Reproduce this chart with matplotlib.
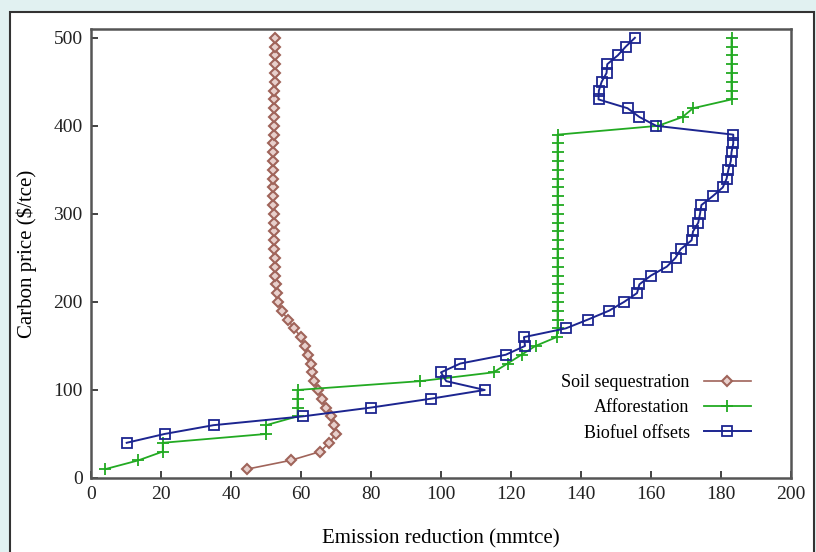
import numpy as np
import matplotlib
matplotlib.use("Agg")
import matplotlib.pyplot as plt
from matplotlib.patches import Rectangle

# carbon price levels ($/tce)
soil_price = list(range(10, 510, 10))
soil_x = [44.5, 57.0, 65.5, 68.0, 70.0, 69.5, 68.5, 67.0, 66.0, 64.8,
          63.8, 63.2, 62.8, 62.0, 61.0, 60.0, 58.0, 56.2, 54.5, 53.5,
          53.0, 52.8, 52.7, 52.6, 52.5, 52.4, 52.3, 52.3, 52.2, 52.2,
          52.1, 52.1, 52.0, 52.0, 52.0, 52.0, 52.1, 52.1, 52.2, 52.2,
          52.3, 52.3, 52.4, 52.4, 52.5, 52.5, 52.6, 52.6, 52.7, 52.7]

affor_price = list(range(10, 510, 10))
affor_x = [4.0, 13.5, 20.5, 20.5, 50.0, 50.0, 59.0, 59.0, 59.0, 59.0,
           94.0, 115.0, 119.0, 123.0, 127.0, 133.0,
           133.3, 133.3, 133.3, 133.3, 133.3, 133.3, 133.3, 133.3, 133.3, 133.3,
           133.3, 133.3, 133.3, 133.3, 133.3, 133.3, 133.3, 133.3, 133.3, 133.3,
           133.3, 133.3, 133.3,
           162.0, 169.0, 172.0,
           183.0, 183.0, 183.0, 183.0, 183.0, 183.0, 183.0, 183.0]

bio_price = list(range(40, 510, 10))
bio_x = [10.2, 21.0, 35.0, 60.5, 80.0, 97.0, 112.5, 101.5, 100.0, 105.5,
         118.5, 124.0, 123.7, 135.7, 142.0, 148.0, 152.3, 156.0, 156.7, 160.0,
         164.5, 167.0, 168.5, 171.6, 172.0, 173.5, 174.0, 174.4, 177.6, 180.5,
         181.6, 182.1, 182.8, 183.0, 183.5, 183.5,
         161.5, 156.7, 153.3, 145.0, 145.1, 145.9, 147.3, 147.5, 150.5, 152.8, 155.4]

x_ticks = [0, 20, 40, 60, 80, 100, 120, 140, 160, 180, 200]
y_ticks = [0, 100, 200, 300, 400, 500]

plt.rcParams['font.family'] = ['Liberation Serif', 'DejaVu Serif']

fig = plt.figure(figsize=(8.16, 5.52), dpi=100)
fig.patch.set_facecolor('#e1f1f1')
# white panel with dark border
fig.patches.append(Rectangle((10 / 816, -0.05), 804 / 816, 1.05 - 12 / 552,
                             transform=fig.transFigure, facecolor='white',
                             edgecolor='#333333', linewidth=1.5, zorder=-5))

ax = fig.add_axes([91 / 816, 1 - 478 / 552, 700 / 816, 449 / 552])
ax.set_facecolor('white')

ax.plot(soil_x, soil_price, color='#a0645a', marker='D', markersize=5.5,
        markerfacecolor='#e8d0cc', markeredgecolor='#a0645a', markeredgewidth=1.5,
        linewidth=1.2, label='Soil sequestration')
ax.plot(affor_x, affor_price, color='#22aa22', marker='+', markersize=9,
        markeredgewidth=1.3, linewidth=1.3, label='Afforestation')
ax.plot(bio_x, bio_price, color='#1c2590', marker='s', markersize=7,
        markerfacecolor='none', markeredgewidth=1.3, linewidth=1.4,
        label='Biofuel offsets')

ax.set_xlim(0, 200)
ax.set_ylim(0, 510)
ax.set_xticks(x_ticks)
ax.set_yticks(y_ticks)
ax.tick_params(direction='in', length=5, width=1.2, labelsize=14,
               colors='#222222', pad=6)
for s in ax.spines.values():
    s.set_color('#555555')
    s.set_linewidth(1.8)

ax.set_xlabel('Emission reduction (mmtce)', fontsize=15, labelpad=19)
ax.set_ylabel('Carbon price ($/tce)', fontsize=15, labelpad=12)

leg = ax.legend(loc='lower right', bbox_to_anchor=(0.966, 0.045), frameon=False,
                markerfirst=False, fontsize=13, handlelength=2.6,
                numpoints=1, labelspacing=0.45, handletextpad=0.8)

fig.savefig('out.png', dpi=100, facecolor=fig.get_facecolor())
